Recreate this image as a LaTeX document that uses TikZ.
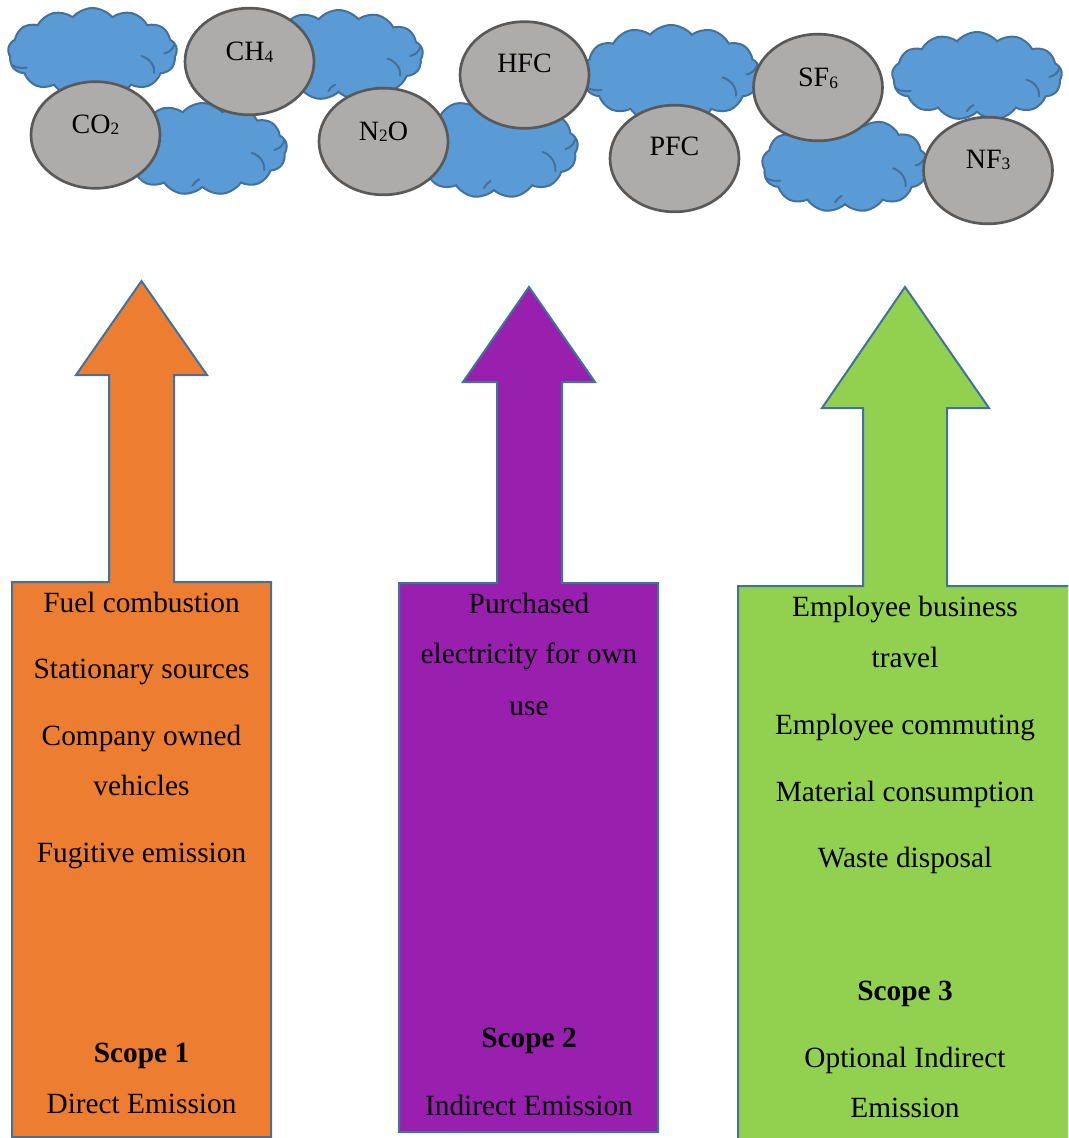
\documentclass[tikz,border=0pt]{standalone}
\usepackage{fontspec}
\setmainfont{Liberation Serif}
\usetikzlibrary{shapes.geometric,shapes.symbols}

\definecolor{cloudfill}{HTML}{5B9BD5}
\definecolor{cloudline}{HTML}{41719C}
\definecolor{gasfill}{HTML}{AEABAB}
\definecolor{gasline}{HTML}{595959}
\definecolor{scopeorange}{HTML}{ED7D31}
\definecolor{scopepurple}{HTML}{991FAE}
\definecolor{scopegreen}{HTML}{92D050}

\newcommand\gassub[1]{\raisebox{-0.06em}{\fontsize{13}{13}\selectfont #1}}

% inner crease lines of a cloud: #1 node name, #2 half width, #3 half height (px)
\newcommand\puffcreases[3]{%
  \begin{scope}[shift={(#1.center)}, xscale=#2, yscale=#3]
    \draw[crease] (-0.96,0.28) .. controls (-0.9,0.34) and (-0.84,0.36) .. (-0.78,0.34);
    \draw[crease] (0.58,0.08) .. controls (0.68,0.14) and (0.74,0.3) .. (0.73,0.46);
    \draw[crease] (0.97,-0.18) .. controls (0.95,-0.06) and (0.9,0.0) .. (0.85,0.02);
    \draw[crease] (-0.12,0.8) .. controls (-0.1,0.74) and (-0.08,0.7) .. (-0.04,0.66);
  \end{scope}}

\tikzset{
  puff/.style={shape=cloud, cloud puffs=13, cloud puff arc=100, cloud ignores aspect,
    draw=cloudline, fill=cloudfill, line width=1.5pt, inner sep=0pt},
  crease/.style={draw=cloudline, line width=1.5pt, line cap=round},
  gas/.style={shape=ellipse, draw=gasline, fill=gasfill, line width=2pt, inner sep=0pt,
    minimum width=96.75pt, minimum height=80pt},
  gaslabel/.style={anchor=base, inner sep=0pt, font=\fontsize{21}{21}\selectfont},
  callout/.style={draw=cloudline, line width=1.5pt, line join=miter},
  item/.style={anchor=base, inner sep=0pt, font=\fontsize{22}{22}\selectfont},
  scopehead/.style={item, font=\fontsize{22}{22}\selectfont\bfseries},
}

\begin{document}
\begin{tikzpicture}[x=0.75pt, y=-0.75pt]
\useasboundingbox (0,0) rectangle (1068,1138);
\clip (0,0) rectangle (1068,1138);

% clouds behind the gases
\node[puff, minimum width=126.75pt, minimum height=66.75pt] (cl1) at (92.5,52.5) {};
\puffcreases{cl1}{84.5}{44.5}
\node[puff, minimum width=126.75pt, minimum height=67.5pt]  (cl2) at (338.5,55) {};
\puffcreases{cl2}{84.5}{45}
\node[puff, minimum width=126.75pt, minimum height=69pt]    (cl3) at (202.5,149) {};
\puffcreases{cl3}{84.5}{46}
\node[puff, minimum width=126pt,    minimum height=75pt]    (cl4) at (494,148) {};
\puffcreases{cl4}{84}{50}
\node[puff, minimum width=133.5pt,  minimum height=72.75pt] (cl5) at (671,73.5) {};
\puffcreases{cl5}{89}{48.5}
\node[puff, minimum width=124.5pt,  minimum height=71.25pt] (cl6) at (845,164.5) {};
\puffcreases{cl6}{83}{47.5}
\node[puff, minimum width=127.5pt,  minimum height=66pt]    (cl7) at (977,76) {};
\puffcreases{cl7}{85}{44}

% greenhouse gases
\node[gas] (co2) at (95.5,135) {};
\node[gas] (ch4) at (249.5,61.5) {};
\node[gas] (n2o) at (383.5,141.5) {};
\node[gas] (hfc) at (524.5,75) {};
\node[gas] (pfc) at (674.5,158.5) {};
\node[gas] (sf6) at (818,87.5) {};
\node[gas] (nf3) at (988,170.5) {};

\node[gaslabel] (co2t) at (95.5,133) {CO\gassub{2}};
\node[gaslabel] (ch4t) at (249.5,61) {CH\gassub{4}};
\node[gaslabel] (n2ot) at (383.5,140) {N\gassub{2}O};
\node[gaslabel] (hfct) at (524.5,73) {HFC};
\node[gaslabel] (pfct) at (674.5,155) {PFC};
\node[gaslabel] (sf6t) at (818,87) {SF\gassub{6}};
\node[gaslabel] (nf3t) at (988,168) {NF\gassub{3}};

% scope 1 callout
\draw[callout, fill=scopeorange]
  (12,1137) -- (12,582) -- (109,582) -- (109,375) -- (76,375) -- (141.5,281)
  -- (207,375) -- (174,375) -- (174,582) -- (271,582) -- (271,1137) -- cycle;
% scope 2 callout
\draw[callout, fill=scopepurple]
  (399,1132) -- (399,583) -- (497,583) -- (497,382) -- (463,382) -- (529,287)
  -- (595,382) -- (562,382) -- (562,583) -- (658,583) -- (658,1132) -- cycle;
% scope 3 callout
\draw[callout, fill=scopegreen]
  (738,1145) -- (738,586) -- (863,586) -- (863,408) -- (822,408) -- (905,287)
  -- (989,408) -- (947,408) -- (947,586) -- (1075,586) -- (1075,1145) -- cycle;

% scope 1 text
\node[item] (s1a) at (141.5,612) {Fuel combustion};
\node[item] (s1b) at (141.5,678) {Stationary sources};
\node[item] (s1c) at (141.5,745) {Company owned};
\node[item] (s1d) at (141.5,795) {vehicles};
\node[item] (s1e) at (141.5,862) {Fugitive emission};
\node[scopehead] (s1h) at (141.5,1062) {Scope 1};
\node[item] (s1f) at (141.5,1113) {Direct Emission};

% scope 2 text
\node[item] (s2a) at (529,613) {Purchased};
\node[item] (s2b) at (529,663) {electricity for own};
\node[item] (s2c) at (529,715) {use};
\node[scopehead] (s2h) at (529,1047) {Scope 2};
\node[item] (s2f) at (529,1115) {Indirect Emission};

% scope 3 text
\node[item] (s3a) at (905,616) {Employee business};
\node[item] (s3b) at (905,667) {travel};
\node[item] (s3c) at (905,734) {Employee commuting};
\node[item] (s3d) at (905,801) {Material consumption};
\node[item] (s3e) at (905,867) {Waste disposal};
\node[scopehead] (s3h) at (905,1000) {Scope 3};
\node[item] (s3f) at (905,1067) {Optional Indirect};
\node[item] (s3g) at (905,1117) {Emission};
\end{tikzpicture}
\end{document}
